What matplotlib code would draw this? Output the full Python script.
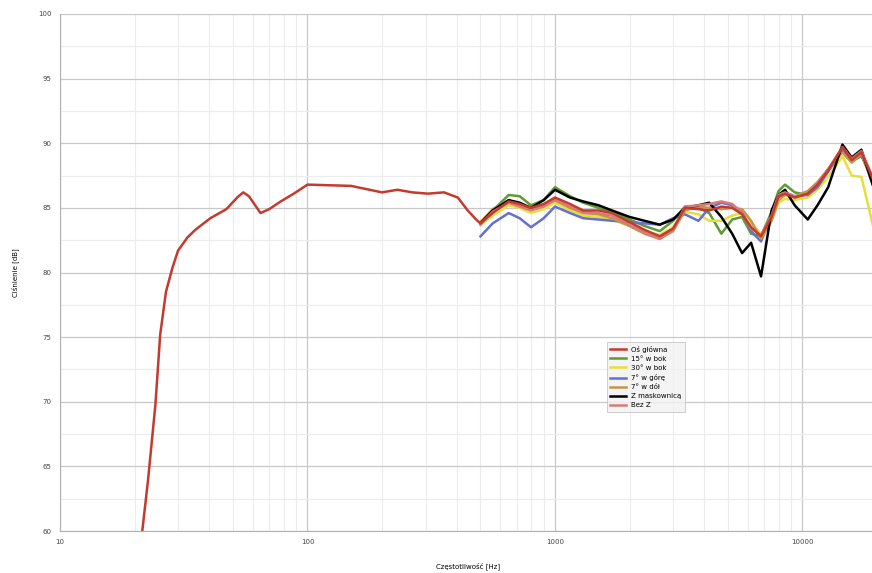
import matplotlib.pyplot as plt
from matplotlib.ticker import FixedLocator, NullFormatter

# main axis response, low part (Hz, dB)
f_low = [21.5, 22.7, 24.3, 25.4, 26.8, 28.5, 30, 32.7, 35.2, 40.5, 47, 52, 55, 58,
         64.6, 70, 78, 88, 100, 150, 200, 231, 265, 306, 356, 405, 444, 480]
db_low = [60, 64, 69.8, 75.2, 78.5, 80.4, 81.7, 82.7, 83.3, 84.2, 84.9, 85.8, 86.2, 85.9,
          84.6, 84.9, 85.5, 86.1, 86.8, 86.7, 86.2, 86.4, 86.2, 86.1, 86.2, 85.8, 84.8, 84.1]

# high part, shared frequency points
f_hi = [500, 560, 650, 720, 800, 900, 1000, 1150, 1300, 1500, 1700, 2000, 2300, 2650,
        3000, 3350, 3800, 4200, 4700, 5200, 5700, 6200, 6800, 7500, 8000, 8500, 9300,
        10500, 11500, 12700, 14500, 15800, 17300, 19500]

os_glowna = [83.8, 84.6, 85.5, 85.3, 85.0, 85.3, 85.8, 85.3, 84.8, 84.8, 84.6, 83.9, 83.3, 82.8,
             83.4, 85.0, 84.9, 84.8, 85.1, 85.0, 84.5, 83.5, 82.8, 84.3, 85.9, 86.1, 85.8,
             86.1, 86.8, 87.9, 89.7, 88.7, 89.3, 87.0]
bok15 = [83.9, 84.8, 86.0, 85.9, 85.2, 85.6, 86.6, 85.9, 85.4, 85.0, 84.7, 84.1, 83.6, 83.2,
         84.0, 85.1, 85.0, 84.6, 83.0, 84.1, 84.3, 83.0, 82.8, 84.7, 86.3, 86.8, 86.2,
         86.0, 86.8, 88.0, 89.4, 88.6, 89.0, 87.0]
bok30 = [83.7, 84.4, 85.2, 85.0, 84.6, 84.9, 85.4, 84.8, 84.4, 84.3, 84.1, 83.6, 83.2, 82.9,
         83.5, 84.7, 84.5, 84.0, 84.0, 84.4, 84.6, 83.8, 83.0, 84.0, 85.4, 85.7, 85.6,
         85.8, 86.4, 87.4, 89.0, 87.5, 87.4, 83.2]
gora7 = [82.8, 83.8, 84.6, 84.2, 83.5, 84.2, 85.1, 84.6, 84.2, 84.1, 84.0, 83.9, 83.8, 83.7,
         84.2, 84.5, 84.0, 85.0, 85.4, 85.2, 84.7, 83.2, 82.4, 84.5, 85.8, 86.2, 85.9,
         86.0, 86.6, 87.8, 89.5, 88.8, 89.1, 86.8]
dol7 = [83.9, 84.9, 85.6, 85.2, 84.9, 85.2, 85.6, 85.0, 84.6, 84.5, 84.2, 83.6, 83.0, 82.6,
        83.2, 84.8, 85.1, 85.0, 84.9, 85.0, 84.9, 84.0, 82.6, 84.0, 85.6, 86.0, 85.9,
        86.3, 87.0, 88.0, 89.3, 88.5, 89.2, 86.5]
maskownica = [83.8, 84.8, 85.6, 85.4, 85.0, 85.6, 86.4, 85.8, 85.5, 85.2, 84.8, 84.3, 84.0, 83.7,
              84.1, 85.0, 85.2, 85.4, 84.3, 83.0, 81.5, 82.3, 79.7, 84.8, 86.0, 86.4, 85.2,
              84.1, 85.2, 86.6, 89.9, 88.9, 89.5, 86.4]
bez_z = [83.7, 84.7, 85.4, 85.1, 84.8, 85.1, 85.6, 85.1, 84.7, 84.6, 84.4, 83.7, 83.1, 82.6,
         83.3, 85.1, 85.2, 85.3, 85.5, 85.3, 84.6, 83.4, 82.9, 84.4, 86.0, 86.2, 85.8,
         86.1, 86.9, 88.0, 89.7, 88.8, 89.4, 87.1]

fig = plt.figure(figsize=(8.72, 5.73), dpi=100)
ax = fig.add_axes([60 / 872, 42 / 573, 817 / 872, 517 / 573])

lw = 1.8
ax.plot(f_hi, bok15, color='#5f9a35', lw=lw, label='15° w bok')
ax.plot(f_hi, bok30, color='#e6df3a', lw=lw, label='30° w bok')
ax.plot(f_hi, gora7, color='#6470d2', lw=lw, label='7° w górę')
ax.plot(f_hi, dol7, color='#c4954a', lw=lw, label='7° w dół')
ax.plot(f_hi, maskownica, color='black', lw=lw, label='Z maskownicą')
ax.plot(f_hi, bez_z, color='#d77b78', lw=lw, label='Bez Z')
ax.plot(f_low + f_hi, db_low + os_glowna, color='#c23b2e', lw=lw, label='Oś główna')

ax.set_xscale('log')
ax.set_xlim(10, 20000)
ax.set_ylim(60, 100)
ax.set_yticks(range(60, 101, 5))
ax.yaxis.set_minor_locator(FixedLocator([62.5 + 5 * i for i in range(8)]))
ax.set_xticks([10, 100, 1000, 10000])
ax.set_xticklabels(['10', '100', '1000', '10000'])
ax.xaxis.set_minor_formatter(NullFormatter())

ax.grid(which='major', color='#c8c8c8', lw=0.9)
ax.grid(which='minor', color='#ececec', lw=0.8)
ax.tick_params(which='both', length=0, labelsize=5, colors='#444444', pad=6)
for s in ['top', 'right']:
    ax.spines[s].set_visible(False)
for s in ['left', 'bottom']:
    ax.spines[s].set_color('#b0b0b0')

ax.set_xlabel('Częstotliwość [Hz]', fontsize=5, labelpad=12)
ax.set_ylabel('Ciśnienie [dB]', fontsize=5, labelpad=14)

h, l = ax.get_legend_handles_labels()
order = [6, 0, 1, 2, 3, 4, 5]
leg = ax.legend([h[i] for i in order], [l[i] for i in order],
                loc='upper left', bbox_to_anchor=(0.665, 0.372), fontsize=5,
                handlelength=2.2, frameon=True, fancybox=False, borderpad=0.5,
                labelspacing=0.45)
leg.get_frame().set_facecolor('#f2f2f2')
leg.get_frame().set_edgecolor('#bbbbbb')
leg.get_frame().set_linewidth(0.6)

fig.savefig('out.png', dpi=100)
